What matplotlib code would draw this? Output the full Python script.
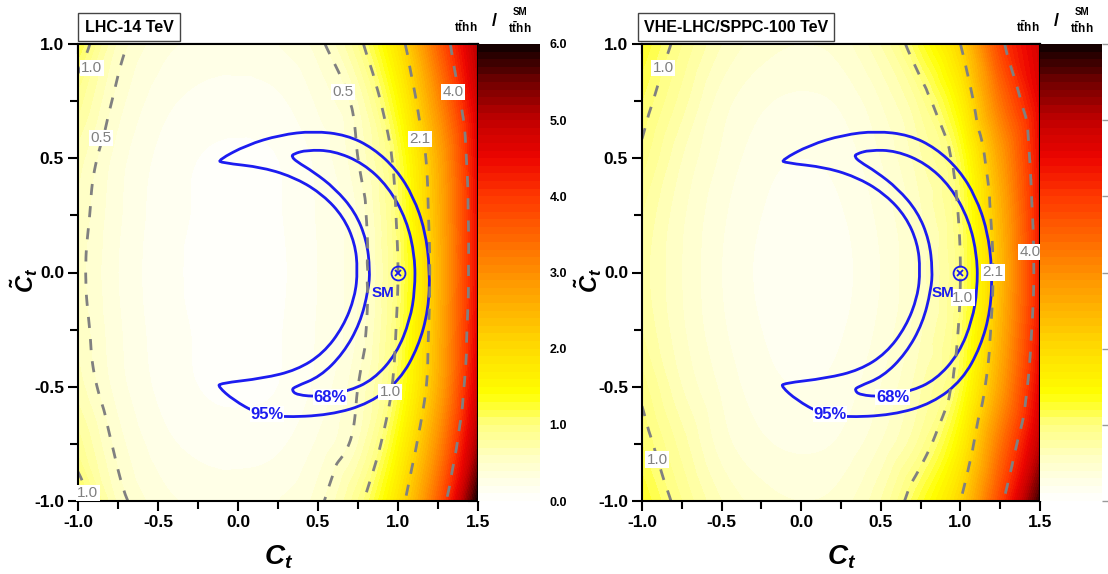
import numpy as np
import matplotlib
matplotlib.use("Agg")
import matplotlib.pyplot as plt
import matplotlib.tri as mtri
from matplotlib import font_manager
from matplotlib.colors import LinearSegmentedColormap
from matplotlib.ticker import MultipleLocator, FormatStrFormatter
from matplotlib.path import Path
from matplotlib.patches import PathPatch

# ---------------- data ----------------
ct_grid = [-1.0, -0.75, -0.5, -0.25, 0.0, 0.25, 0.5, 0.75, 1.0, 1.25, 1.5]
ctt_grid = [-1.0, -0.75, -0.5, -0.25, 0.0, 0.25, 0.5, 0.75, 1.0]

# sigma(tthh)/sigma_SM(tthh), rows = C~t from -1 to 1, cols = Ct from -1 to 1.5
ratio_14 = [
    [1.20, 0.58, 0.35, 0.28, 0.27, 0.30, 0.45, 0.90, 1.85, 3.55, 6.00],
    [0.85, 0.45, 0.25, 0.17, 0.15, 0.18, 0.32, 0.60, 1.45, 3.00, 5.20],
    [0.65, 0.35, 0.18, 0.10, 0.08, 0.10, 0.23, 0.50, 1.15, 2.60, 4.80],
    [0.58, 0.32, 0.16, 0.09, 0.06, 0.09, 0.21, 0.41, 1.05, 2.50, 4.60],
    [0.55, 0.30, 0.15, 0.08, 0.05, 0.08, 0.20, 0.40, 1.00, 2.45, 4.50],
    [0.58, 0.32, 0.16, 0.09, 0.06, 0.09, 0.21, 0.41, 1.05, 2.50, 4.50],
    [0.65, 0.35, 0.18, 0.10, 0.08, 0.10, 0.23, 0.50, 1.15, 2.60, 4.60],
    [0.85, 0.45, 0.25, 0.17, 0.15, 0.18, 0.32, 0.60, 1.45, 3.00, 4.80],
    [1.20, 0.58, 0.35, 0.28, 0.27, 0.30, 0.45, 0.90, 1.85, 3.50, 5.10],
]
ratio_100 = [
    [1.30, 0.90, 0.60, 0.45, 0.40, 0.45, 0.70, 1.25, 2.10, 3.85, 5.80],
    [1.10, 0.75, 0.45, 0.32, 0.28, 0.32, 0.50, 0.85, 1.60, 3.30, 5.00],
    [0.95, 0.60, 0.38, 0.24, 0.20, 0.24, 0.40, 0.68, 1.20, 2.75, 4.60],
    [0.80, 0.52, 0.32, 0.20, 0.15, 0.19, 0.33, 0.58, 1.05, 2.50, 4.40],
    [0.75, 0.50, 0.30, 0.18, 0.13, 0.17, 0.30, 0.55, 1.00, 2.40, 4.30],
    [0.80, 0.52, 0.32, 0.20, 0.15, 0.19, 0.33, 0.58, 1.05, 2.50, 4.35],
    [0.95, 0.60, 0.38, 0.24, 0.20, 0.24, 0.40, 0.68, 1.20, 2.75, 4.45],
    [1.10, 0.75, 0.45, 0.32, 0.28, 0.32, 0.50, 0.85, 1.60, 3.30, 4.60],
    [1.30, 0.90, 0.60, 0.45, 0.40, 0.45, 0.70, 1.25, 2.10, 3.85, 4.80],
]

levels_14 = [0.5, 1.0, 2.1, 4.0]
levels_100 = [1.0, 2.1, 4.0]

# contour-label positions (Ct, C~t, text)
labels_14 = [(-0.915, 0.895, '1.0'), (-0.856, 0.589, '0.5'), (0.656, 0.79, '0.5'),
             (1.344, 0.79, '4.0'), (1.137, 0.584, '2.1'), (0.95, -0.523, '1.0'),
             (-0.94, -0.965, '1.0')]
labels_100 = [(-0.868, 0.895, '1.0'), (-0.906, -0.82, '1.0'), (1.015, -0.11, '1.0'),
              (1.205, 0.0, '2.1'), (1.437, 0.09, '4.0')]

# 95% CL region outline (Ct, C~t)
cl95_ct = [-0.123, 0.054, 0.263, 0.471, 0.679, 0.846, 0.992, 1.096, 1.169, 1.200,
           1.190, 1.127, 1.013, 0.825, 0.575, 0.263, 0.117, -0.029, -0.123,
           -0.113, 0.158, 0.367, 0.533, 0.658, 0.731, 0.748, 0.731, 0.658,
           0.533, 0.367, 0.158, -0.102]
cl95_ctt = [0.492, 0.558, 0.602, 0.619, 0.602, 0.544, 0.449, 0.332, 0.186, 0.011,
            -0.164, -0.325, -0.470, -0.572, -0.624, -0.634, -0.616, -0.558, -0.500,
            -0.485, -0.463, -0.427, -0.354, -0.237, -0.106, 0.011, 0.128, 0.244,
            0.339, 0.412, 0.460, 0.480]
# 68% CL region outline
cl68_ct = [0.346, 0.429, 0.596, 0.783, 0.939, 1.054, 1.106, 1.106, 1.075, 0.992,
           0.846, 0.679, 0.513, 0.367, 0.335, 0.356, 0.513, 0.658, 0.763, 0.815,
           0.825, 0.804, 0.731, 0.606, 0.471, 0.367, 0.335]
cl68_ctt = [0.519, 0.536, 0.533, 0.478, 0.376, 0.230, 0.069, -0.077, -0.208, -0.354,
            -0.470, -0.522, -0.544, -0.536, -0.514, -0.500, -0.456, -0.354, -0.222,
            -0.077, 0.011, 0.142, 0.266, 0.368, 0.441, 0.485, 0.507]

sm_point = (1.0, 0.0)

# ---------------- style ----------------
plt.rcParams['font.family'] = ['Liberation Sans', 'DejaVu Sans']
plt.rcParams['mathtext.fontset'] = 'custom'
plt.rcParams['mathtext.it'] = 'Liberation Sans:italic:bold'
plt.rcParams['mathtext.rm'] = 'Liberation Sans:bold'
plt.rcParams['mathtext.bf'] = 'Liberation Sans:bold'

_names = {f.name for f in font_manager.fontManager.ttflist}
NARROW = 'Liberation Sans Narrow' if 'Liberation Sans Narrow' in _names else 'Liberation Sans'
TITLE_SIZE = 13 if NARROW == 'Liberation Sans Narrow' else 11.5

cmap = LinearSegmentedColormap.from_list("ratio", [
    (0.0 / 6, (1.0, 1.0, 1.0)),
    (0.5 / 6, (1.0, 1.0, 0.80)),
    (1.0 / 6, (1.0, 1.0, 0.50)),
    (1.4 / 6, (1.0, 1.0, 0.0)),
    (2.0 / 6, (1.0, 0.86, 0.0)),
    (3.0 / 6, (1.0, 0.56, 0.0)),
    (4.0 / 6, (1.0, 0.22, 0.0)),
    (4.5 / 6, (0.93, 0.02, 0.0)),
    (5.0 / 6, (0.76, 0.0, 0.0)),
    (5.5 / 6, (0.45, 0.0, 0.0)),
    (6.0 / 6, (0.05, 0.0, 0.0)),
])

W, H = 1108, 574
fig = plt.figure(figsize=(W / 100, H / 100), dpi=100)


def fx(px):
    return px / W


def fy(py):
    return 1 - py / H


BLUE = '#1c1cf0'
GRAY = '#808080'


def smooth_closed(ax, xs, ys, **kw):
    pts = np.column_stack([xs, ys])
    n = len(pts)
    mids = (pts + np.roll(pts, -1, axis=0)) / 2.0
    verts = [mids[0]]
    codes = [Path.MOVETO]
    for i in range(1, n + 1):
        verts.append(pts[i % n])
        verts.append(mids[i % n])
        codes += [Path.CURVE3, Path.CURVE3]
    ax.add_patch(PathPatch(Path(verts, codes), fill=False, **kw))


def panel(x0, x1, z, levels, labs, title, title_cx, show_cb_labels, sm_x, cb_w=62):
    ax = fig.add_axes([fx(x0), fy(501), fx(x1) - fx(x0), fy(44) - fy(501)])
    cax = fig.add_axes([fx(x1), fy(501), fx(cb_w), fy(44) - fy(501)])
    X, Y = np.meshgrid(ct_grid, ctt_grid)
    Z = np.asarray(z, dtype=float)
    tri = mtri.Triangulation(X.ravel(), Y.ravel())
    interp = mtri.CubicTriInterpolator(tri, Z.ravel(), kind='geom')
    refiner = mtri.UniformTriRefiner(tri)
    tri_f, z_f = refiner.refine_field(Z.ravel(), triinterpolator=interp, subdiv=4)
    z_f = np.clip(z_f, 0.0, 6.0)
    cf = ax.tricontourf(tri_f, z_f, levels=np.linspace(0, 6, 61), cmap=cmap,
                        vmin=0, vmax=6)
    ax.tricontour(tri_f, z_f, levels=levels, colors=GRAY, linewidths=2.0,
                  linestyles=[(0, (4, 4))])
    for (lx, ly, s) in labs:
        ax.text(lx, ly, s, color=GRAY, fontsize=11, ha='center', va='center',
                bbox=dict(facecolor='white', edgecolor='none', pad=1.0))

    smooth_closed(ax, cl95_ct, cl95_ctt, edgecolor=BLUE, lw=2.0)
    smooth_closed(ax, cl68_ct, cl68_ctt, edgecolor=BLUE, lw=2.0)
    ax.plot(*sm_point, marker='o', ms=10, mfc='none', mec=BLUE, mew=1.3)
    ax.plot(*sm_point, marker='x', ms=5, mec=BLUE, mew=1.3)
    ax.text(sm_x, -0.09, 'SM', color=BLUE, fontsize=11, weight='bold',
            ha='center', va='center')
    ax.text(0.18, -0.62, '95%', color=BLUE, fontsize=12, weight='bold',
            ha='center', va='center',
            bbox=dict(facecolor='white', edgecolor='none', pad=0.5))
    ax.text(0.575, -0.545, '68%', color=BLUE, fontsize=12, weight='bold',
            ha='center', va='center',
            bbox=dict(facecolor='white', edgecolor='none', pad=0.5))

    ax.set_xlim(-1.0, 1.5)
    ax.set_ylim(-1.0, 1.0)
    ax.xaxis.set_major_locator(MultipleLocator(0.5))
    ax.xaxis.set_minor_locator(MultipleLocator(0.25))
    ax.yaxis.set_major_locator(MultipleLocator(0.5))
    ax.yaxis.set_minor_locator(MultipleLocator(0.25))
    ax.xaxis.set_major_formatter(FormatStrFormatter('%.1f'))
    ax.yaxis.set_major_formatter(FormatStrFormatter('%.1f'))
    ax.tick_params(which='major', direction='out', length=7, width=1.5,
                   labelsize=12.5, pad=3)
    ax.tick_params(which='minor', direction='out', length=6, width=1.5)
    for lab in ax.get_xticklabels() + ax.get_yticklabels():
        lab.set_fontweight('bold')
    for sp in ax.spines.values():
        sp.set_linewidth(1.5)

    secx = ax.secondary_xaxis('top')
    secx.xaxis.set_major_locator(MultipleLocator(0.5))
    secx.xaxis.set_minor_locator(MultipleLocator(0.25))
    secx.tick_params(which='both', direction='in', length=7, width=1.5,
                     labeltop=False)
    secx.spines['top'].set_linewidth(1.5)
    secy = ax.secondary_yaxis('right')
    secy.yaxis.set_major_locator(MultipleLocator(0.5))
    secy.yaxis.set_minor_locator(MultipleLocator(0.25))
    secy.tick_params(which='both', direction='in', length=7, width=1.5,
                     labelright=False)

    cb = fig.colorbar(cf, cax=cax, ticks=np.arange(0, 7, 1))
    cb.outline.set_visible(False)
    if show_cb_labels:
        cb.ax.set_yticklabels(['%.1f' % v for v in range(7)])
        cb.ax.tick_params(length=0, pad=7, labelsize=9)
        for lab in cb.ax.get_yticklabels():
            lab.set_fontweight('bold')
    else:
        cb.ax.set_yticklabels([])
        cb.ax.tick_params(length=4, width=1, color='#999999')

    fig.text(fx(title_cx), fy(27), title, ha='center', va='center',
             fontsize=TITLE_SIZE, weight='bold', family=[NARROW, 'DejaVu Sans'],
             bbox=dict(boxstyle='square,pad=0.4', facecolor='white',
                       edgecolor='#444444', lw=1.0))

    # colour-bar title
    fig.text(fx(x1 - 12), fy(27), r'$\mathrm{t\bar{t}hh}$', ha='center',
             va='center', fontsize=8.5)
    fig.text(fx(x1 + 16), fy(21), '/', ha='center', va='center', fontsize=13,
             weight='bold')
    fig.text(fx(x1 + 42), fy(12), 'SM', ha='center', va='center', fontsize=7,
             weight='bold')
    fig.text(fx(x1 + 42), fy(28), r'$\mathrm{t\bar{t}hh}$', ha='center',
             va='center', fontsize=8.5)

    fig.text(fx((x0 + x1) / 2 + 1), fy(557), r'$C_t$', ha='center',
             va='center', fontsize=20)
    fig.text(fx(x0 - 54), fy(280), r'$\tilde{C}_t$', ha='center', va='center',
             fontsize=17, rotation=90)
    return ax


panel(78, 478, ratio_14, levels_14, labels_14, 'LHC-14 TeV', 129, True, 0.905)
panel(642, 1040, ratio_100, levels_100, labels_100, 'VHE-LHC/SPPC-100 TeV', 736,
      False, 0.89)

fig.savefig('out.png', dpi=100)
